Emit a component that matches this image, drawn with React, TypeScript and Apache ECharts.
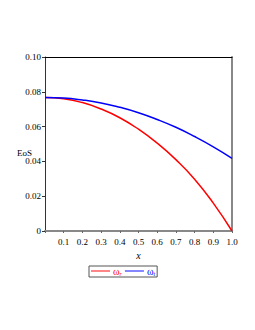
import React, { useEffect, useRef } from "react";
import * as echarts from "echarts";

const xValues = [0, 0.1, 0.2, 0.3, 0.4, 0.5, 0.6, 0.7, 0.8, 0.9, 1.0];
const omegaR = [0.0767, 0.076, 0.0738, 0.0701, 0.0651, 0.0585, 0.0505, 0.041, 0.0298, 0.016, 0.0];
const omegaT = [0.0767, 0.0764, 0.0753, 0.0736, 0.0711, 0.068, 0.0641, 0.0596, 0.0543, 0.0484, 0.0418];
const seriesNames = ["ωr", "ωt"];

export default function App() {
  const ref = useRef<HTMLDivElement>(null);
  useEffect(() => {
    if (!ref.current) return;
    const chart = echarts.init(ref.current, undefined, { renderer: "svg" });
    const font = "'Liberation Serif', 'Times New Roman', serif";
    chart.setOption({
      animation: false,
      backgroundColor: "#ffffff",
      textStyle: { fontFamily: font },
      grid: { left: 37, right: 15, top: 49, bottom: 91, containLabel: false },
      legend: {
        left: 81,
        top: 258,
        orient: "horizontal",
        itemWidth: 19,
        itemHeight: 8,
        itemGap: 3,
        padding: [0, 2, 0, 2],
        borderColor: "#555",
        borderWidth: 1,
        icon: "path://M0,4 L20,4 L20,5 L0,5 Z",
        data: seriesNames,
        formatter: (name: string) =>
          name === "ωr" ? "{r|ω}{rs|r}" : "{t|ω}{ts|t}",
        textStyle: {
          fontFamily: font,
          fontSize: 10,
          padding: [0, 0, 0, -2],
          rich: {
            r: { color: "#ff0000", fontSize: 10, fontFamily: font },
            rs: { color: "#ff0000", fontSize: 6, fontFamily: font, fontStyle: "italic", padding: [6, 0, 0, 0] },
            t: { color: "#0000ff", fontSize: 10, fontFamily: font },
            ts: { color: "#0000ff", fontSize: 6, fontFamily: font, fontStyle: "italic", padding: [6, 0, 0, 0] },
          },
        },
      },
      xAxis: [
        {
          type: "value",
          min: 0,
          max: 1,
          interval: 0.1,
          name: "x",
          nameLocation: "middle",
          nameGap: 19,
          nameMoveOverlap: false,
          nameTextStyle: { fontFamily: font, fontSize: 10, fontStyle: "italic", color: "#000" },
          axisLine: { show: true, onZero: false, lineStyle: { color: "#888", width: 2 } },
          axisTick: { show: true, length: 2, lineStyle: { color: "#666" } },
          splitLine: { show: false },
          axisLabel: {
            fontFamily: font,
            fontSize: 9,
            color: "#000",
            margin: 6,
            formatter: (v: number) => (v === 0 ? "" : v.toFixed(1)),
          },
        },
        {
          type: "value",
          position: "top",
          min: 0,
          max: 1,
          axisLine: { show: true, onZero: false, lineStyle: { color: "#000", width: 1 } },
          axisTick: { show: false },
          axisLabel: { show: false },
          splitLine: { show: false },
        },
      ],
      yAxis: [
        {
          type: "value",
          min: 0,
          max: 0.1,
          interval: 0.02,
          name: "EoS",
          nameLocation: "middle",
          nameRotate: 0,
          nameGap: 13,
          nameMoveOverlap: false,
          nameTextStyle: { fontFamily: font, fontSize: 9, color: "#000", align: "right", verticalAlign: "top", padding: [4, 0, 0, 0] },
          axisLine: { show: true, onZero: false, lineStyle: { color: "#333", width: 1 } },
          axisTick: { show: true, length: 3, lineStyle: { color: "#333" } },
          splitLine: { show: false },
          axisLabel: {
            fontFamily: font,
            fontSize: 9,
            color: "#000",
            margin: 4,
            formatter: (v: number) => (v === 0 ? "0" : v.toFixed(2)),
          },
        },
        {
          type: "value",
          position: "right",
          min: 0,
          max: 0.1,
          axisLine: { show: true, onZero: false, lineStyle: { color: "#888", width: 2 } },
          axisTick: { show: false },
          axisLabel: { show: false },
          splitLine: { show: false },
        },
      ],
      series: [
        {
          name: seriesNames[0],
          type: "line",
          smooth: true,
          showSymbol: false,
          symbol: "none",
          lineStyle: { color: "#ff0000", width: 1.5 },
          itemStyle: { color: "#ff0000" },
          data: xValues.map((x, i) => [x, omegaR[i]]),
        },
        {
          name: seriesNames[1],
          type: "line",
          smooth: true,
          showSymbol: false,
          symbol: "none",
          lineStyle: { color: "#0000ff", width: 1.5 },
          itemStyle: { color: "#0000ff" },
          data: xValues.map((x, i) => [x, omegaT[i]]),
        },
      ],
    });
    return () => chart.dispose();
  }, []);
  return <div ref={ref} style={{ width: 239, height: 314 }} />;
}
